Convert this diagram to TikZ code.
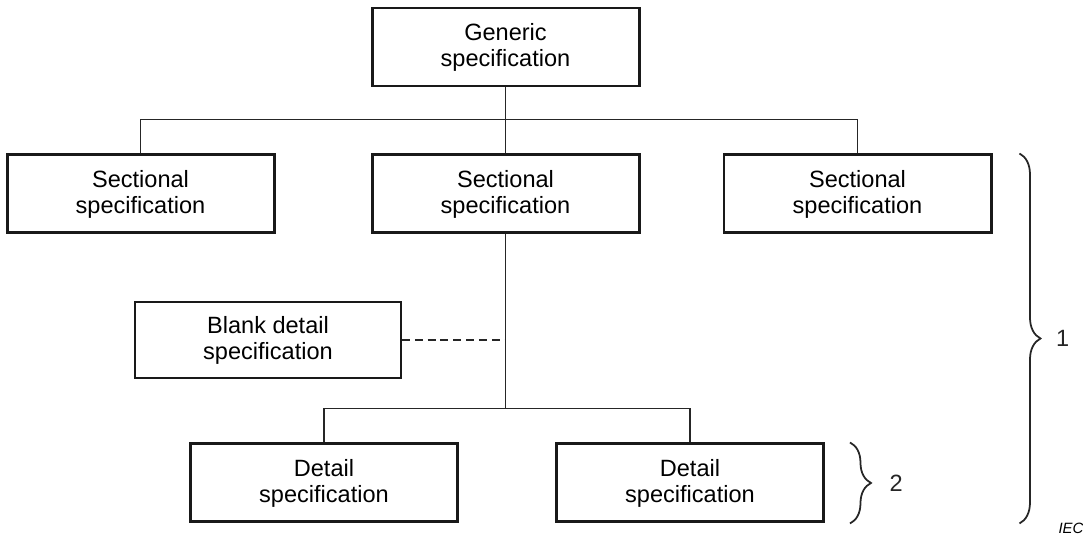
\documentclass[tikz,border=0pt]{standalone}
\usepackage{fontspec}
\setmainfont{Liberation Sans}
\usetikzlibrary{positioning, decorations.pathreplacing}
\tikzstyle{spec} = [rectangle, minimum width=5.34cm, minimum height=1.56cm, text centered, align=center, draw=black!90, line width=1.7pt, font=\fontsize{13.4}{14.8}\selectfont]
\tikzstyle{blank} = [spec, line width=1.1pt, minimum width=5.32cm, minimum height=1.52cm]
\tikzstyle{link} = [line width=0.6pt, black!85]
\tikzstyle{optional} = [link, line width=1.1pt, dash pattern=on 4.5pt off 2.8pt]
\tikzstyle{bracket} = [line width=1pt, black!85, decorate, decoration={brace, amplitude=0.42cm}]

\begin{document}
\begin{tikzpicture}
		\useasboundingbox (0,0) rectangle (21.66,-10.8);
		\node (generic) [spec] at (10.11,-0.94) {Generic\\specification};
		\node (sect2) [spec, below=1.32cm of generic] {Sectional\\specification};
		\node (sect1) [spec, left=1.9cm of sect2] {Sectional\\specification};
		\node (sect3) [spec, right=1.64cm of sect2] {Sectional\\specification};
		\node (blankdet) [blank, below=1.34cm of sect2, xshift=-4.75cm] {Blank detail\\specification};
		\node (detail1) [spec, below=4.16cm of sect2, xshift=-3.63cm] {Detail\\specification};
		\node (detail2) [spec, right=1.92cm of detail1] {Detail\\specification};
		\node (iec) at (21.42,-10.56) {\fontsize{8.5}{10}\selectfont\itshape IEC};
	
		% Tree of specifications
		\coordinate (topbus) at ([yshift=-0.64cm]generic.south);
		\coordinate (lowbus) at ([yshift=0.68cm]detail1.north -| sect2.south);
		\coordinate (tap) at (blankdet.east -| sect2.south);
		\draw [link] (generic) -- (sect2);
		\draw [link] (sect1.north) |- (topbus) -| (sect3.north);
		\draw [link] (sect2) -- (lowbus);
		\draw [link] (detail1.north) |- (lowbus) -| (detail2.north);
		\draw [optional] (blankdet) -- (tap);
		% Groups
		\draw [bracket] ([xshift=0.54cm]sect3.north east) -- node[right=0.6cm] {\fontsize{13.4}{14.8}\selectfont 1} ([xshift=0.54cm]sect3.east |- detail2.south);
		\draw [bracket] ([xshift=0.5cm]detail2.north east) -- node[right=0.66cm] {\fontsize{13.4}{14.8}\selectfont 2} ([xshift=0.5cm]detail2.south east);
	\end{tikzpicture}
\end{document}
